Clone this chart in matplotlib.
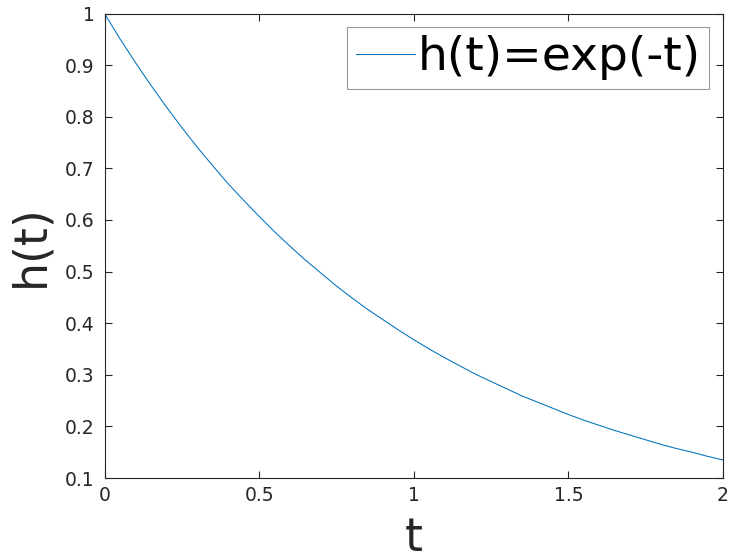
import numpy as np
import matplotlib
matplotlib.use("Agg")
import matplotlib.pyplot as plt

# values
t = [0.00, 0.05, 0.10, 0.15, 0.20, 0.25, 0.30, 0.35, 0.40, 0.45,
     0.50, 0.55, 0.60, 0.65, 0.70, 0.75, 0.80, 0.85, 0.90, 0.95,
     1.00, 1.05, 1.10, 1.15, 1.20, 1.25, 1.30, 1.35, 1.40, 1.45,
     1.50, 1.55, 1.60, 1.65, 1.70, 1.75, 1.80, 1.85, 1.90, 1.95, 2.00]
h = [1.000, 0.951, 0.905, 0.861, 0.819, 0.779, 0.741, 0.705, 0.670, 0.638,
     0.607, 0.577, 0.549, 0.522, 0.497, 0.472, 0.449, 0.427, 0.407, 0.387,
     0.368, 0.350, 0.333, 0.317, 0.301, 0.287, 0.273, 0.259, 0.247, 0.235,
     0.223, 0.212, 0.202, 0.192, 0.183, 0.174, 0.165, 0.157, 0.150, 0.142, 0.135]
xticks = [0, 0.5, 1, 1.5, 2]
xticklabels = ["0", "0.5", "1", "1.5", "2"]
yticks = [0.1, 0.2, 0.3, 0.4, 0.5, 0.6, 0.7, 0.8, 0.9, 1.0]
yticklabels = ["0.1", "0.2", "0.3", "0.4", "0.5", "0.6", "0.7", "0.8", "0.9", "1"]

W, H = 729, 559
fig = plt.figure(figsize=(W / 100, H / 100), dpi=100)
ax = fig.add_axes([104.5 / W, 1 - 478 / H, (723 - 104.5) / W, (478 - 13.5) / H])

ax.plot(t, h, color="#0072BD", lw=0.75, label="h(t)=exp(-t)")

ax.set_xlim(0, 2)
ax.set_ylim(0.1, 1)
ax.set_xticks(xticks)
ax.set_xticklabels(xticklabels)
ax.set_yticks(yticks)
ax.set_yticklabels(yticklabels)

dark = "#262626"
for s in ax.spines.values():
    s.set_color(dark)
    s.set_linewidth(0.8)
ax.tick_params(direction="in", length=5, width=0.8, colors=dark, labelsize=13.5,
               top=True, right=True)
ax.tick_params(axis="y", pad=7)
ax.tick_params(axis="x", pad=6)

ax.set_xlabel("t", fontsize=33, color=dark, va="center")
ax.xaxis.set_label_coords(0.5, -0.130)
ax.set_ylabel("h(t)", fontsize=33, color=dark, va="center", ha="center")
ax.yaxis.set_label_coords(-0.119, 0.5)

leg = ax.legend(loc="upper right", bbox_to_anchor=(709 / W, 1 - 27 / H),
                bbox_transform=fig.transFigure, fontsize=34, frameon=True,
                fancybox=False, borderaxespad=0, borderpad=0.18,
                handlelength=1.25, handletextpad=0.05, labelcolor="black")
leg.get_frame().set_edgecolor("#7f7f7f")
leg.get_frame().set_linewidth(0.8)

fig.savefig("out.png", dpi=100)
